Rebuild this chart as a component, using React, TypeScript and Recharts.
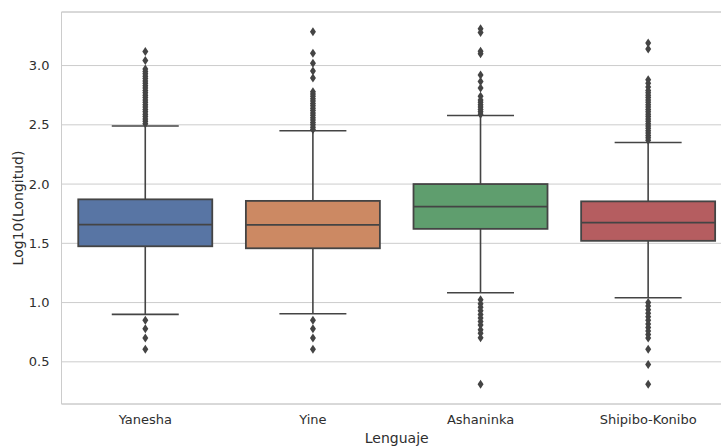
import {
  ComposedChart,
  Bar,
  Scatter,
  XAxis,
  YAxis,
  CartesianGrid,
  ReferenceLine,
} from "recharts";

// categories and box stats (log10 of length)
const LANGS = ["Yanesha", "Yine", "Ashaninka", "Shipibo-Konibo"];
const COLORS = ["#5875a4", "#cc8963", "#5f9e6e", "#b55d60"];
const LOWER = [0.9, 0.905, 1.083, 1.04];
const Q1 = [1.475, 1.458, 1.622, 1.521];
const MEDIAN = [1.658, 1.655, 1.81, 1.675];
const Q3 = [1.871, 1.858, 2.0, 1.854];
const UPPER = [2.49, 2.45, 2.579, 2.351];

// outliers
const OUT_YANESHA = [
  3.118, 3.042, 2.97, 2.95, 2.93, 2.91, 2.89, 2.87, 2.85, 2.83, 2.81, 2.79,
  2.77, 2.75, 2.73, 2.71, 2.69, 2.67, 2.65, 2.63, 2.61, 2.59, 2.57, 2.55,
  2.53, 2.51, 0.85, 0.78, 0.7, 0.605,
];
const OUT_YINE = [
  3.286, 3.104, 3.02, 2.955, 2.894, 2.78, 2.76, 2.74, 2.72, 2.7, 2.68, 2.66,
  2.64, 2.62, 2.6, 2.58, 2.56, 2.54, 2.52, 2.5, 2.48, 2.46, 0.85, 0.78, 0.7,
  0.605,
];
const OUT_ASHANINKA = [
  3.31, 3.28, 3.12, 3.1, 2.92, 2.865, 2.81, 2.74, 2.71, 2.69, 2.67, 2.65,
  2.63, 2.61, 2.59, 1.024, 0.99, 0.96, 0.93, 0.9, 0.87, 0.84, 0.81, 0.77,
  0.74, 0.703, 0.31,
];
const OUT_SHIPIBO = [
  3.19, 3.14, 2.88, 2.85, 2.82, 2.79, 2.77, 2.75, 2.73, 2.71, 2.69, 2.67,
  2.65, 2.63, 2.61, 2.59, 2.57, 2.55, 2.53, 2.51, 2.49, 2.47, 2.45, 2.43,
  2.41, 2.39, 2.37, 1.0, 0.97, 0.94, 0.91, 0.88, 0.85, 0.82, 0.79, 0.76,
  0.73, 0.7, 0.605, 0.478, 0.31,
];
const OUTLIERS = [OUT_YANESHA, OUT_YINE, OUT_ASHANINKA, OUT_SHIPIBO];

const Y_DOMAIN = [0.144, 3.452];
const Y_TICKS = [0.5, 1.0, 1.5, 2.0, 2.5, 3.0];

const LINE = "#444444";
const GRID = "#cccccc";
const TEXT = "#2e2e2e";
const FONT = "'DejaVu Sans', sans-serif";

const boxData = LANGS.map((lang, i) => ({
  lang,
  color: COLORS[i],
  lo: LOWER[i],
  q1: Q1[i],
  med: MEDIAN[i],
  q3: Q3[i],
  hi: UPPER[i],
}));

const outlierData = LANGS.flatMap((lang, i) =>
  OUTLIERS[i].map((value) => ({ lang, value }))
);

// box + whiskers, positioned off the bar that recharts places for [q1, q3]
function BoxShape(props: any) {
  const { x, y, width, height, payload } = props;
  if (x == null || y == null || !payload) return null;
  const { q1, q3, med, lo, hi, color } = payload;
  const top = Math.min(y, y + height);
  const h = Math.abs(height);
  const k = h / (q3 - q1);
  const py = (v: number) => top + (q3 - v) * k;
  const cx = x + width / 2;
  const cap = width / 4;
  return (
    <g>
      <line x1={cx} x2={cx} y1={py(hi)} y2={py(q3)} stroke={LINE} strokeWidth={1.6} />
      <line x1={cx} x2={cx} y1={py(q1)} y2={py(lo)} stroke={LINE} strokeWidth={1.6} />
      <line x1={cx - cap} x2={cx + cap} y1={py(hi)} y2={py(hi)} stroke={LINE} strokeWidth={1.6} />
      <line x1={cx - cap} x2={cx + cap} y1={py(lo)} y2={py(lo)} stroke={LINE} strokeWidth={1.6} />
      <rect x={x} y={top} width={width} height={h} fill={color} stroke={LINE} strokeWidth={1.8} />
      <line x1={x} x2={x + width} y1={py(med)} y2={py(med)} stroke={LINE} strokeWidth={1.8} />
    </g>
  );
}

function Diamond(props: any) {
  const { cx, cy } = props;
  if (cx == null || cy == null) return null;
  const w = 3;
  const h = 4.5;
  return (
    <path
      d={`M${cx},${cy - h}L${cx + w},${cy}L${cx},${cy + h}L${cx - w},${cy}Z`}
      fill={LINE}
    />
  );
}

export default function App() {
  return (
    <div
      style={{
        position: "absolute",
        left: 0,
        top: 0,
        width: 721,
        height: 446,
        overflow: "hidden",
        background: "#fff",
        fontFamily: FONT,
      }}
    >
      <ComposedChart
        width={732}
        height={446}
        data={boxData}
        margin={{ top: 12, right: 0, bottom: 0, left: 0 }}
        barCategoryGap="10%"
      >
        <CartesianGrid vertical={false} stroke={GRID} strokeWidth={1} />
        <XAxis
          dataKey="lang"
          type="category"
          allowDuplicatedCategory={false}
          height={42}
          tickLine={false}
          tickSize={0}
          tickMargin={11}
          axisLine={{ stroke: GRID }}
          tick={{ fontSize: 13, fill: TEXT, fontFamily: FONT }}
          label={{
            value: "Lenguaje",
            position: "insideBottom",
            offset: 3,
            fontSize: 14,
            fill: TEXT,
            fontFamily: FONT,
          }}
        />
        <YAxis
          type="number"
          domain={Y_DOMAIN}
          ticks={Y_TICKS}
          allowDataOverflow
          width={61.5}
          tickLine={false}
          tickSize={0}
          tickMargin={12}
          axisLine={{ stroke: GRID }}
          tickFormatter={(v: number) => v.toFixed(1)}
          tick={{ fontSize: 13, fill: TEXT, fontFamily: FONT }}
          label={{
            value: "Log10(Longitud)",
            angle: -90,
            position: "insideLeft",
            offset: 18,
            fontSize: 14,
            fill: TEXT,
            fontFamily: FONT,
            style: { textAnchor: "middle" },
          }}
        />
        <ReferenceLine y={Y_DOMAIN[1]} stroke={GRID} />
        <Bar
          dataKey={(d: any) => [d.q1, d.q3]}
          shape={<BoxShape />}
          isAnimationActive={false}
        />
        <Scatter
          data={outlierData}
          dataKey="value"
          shape={<Diamond />}
          isAnimationActive={false}
        />
      </ComposedChart>
    </div>
  );
}
